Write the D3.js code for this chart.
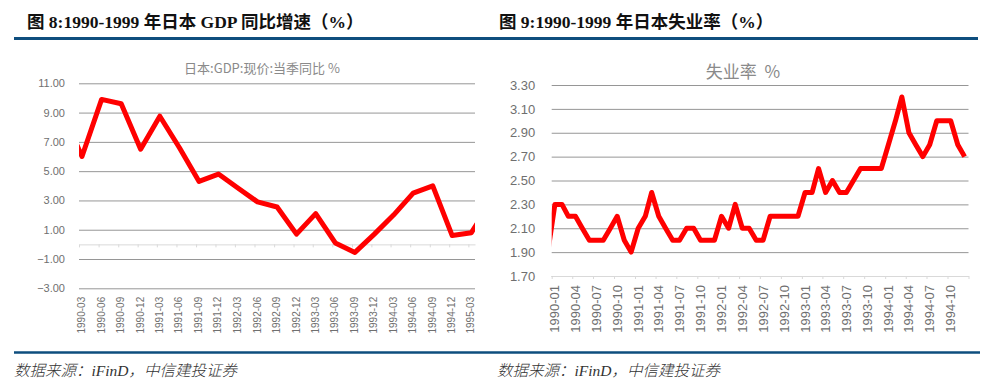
<!DOCTYPE html>
<html>
<head>
<meta charset="utf-8">
<script src="https://cdn.jsdelivr.net/npm/d3@7"></script>
<style>
  body { margin: 0; background: #fff; }
</style>
</head>
<body>
<div id="chart"></div>
<script>
const width = 994, height = 389;
const blue = "#0e4e7e";
const red = "#ff0000";
const gridColor = "#969696";
const axisColor = "#d9d9d9";
const labelColor = "#6f6f6f";
const parseMonth = d3.timeParse("%Y-%m");

// Figure 8: GDP yoy, quarterly
const gdpQuarters = ["1990-03", "1990-06", "1990-09", "1990-12", "1991-03", "1991-06", "1991-09",
  "1991-12", "1992-03", "1992-06", "1992-09", "1992-12", "1993-03", "1993-06", "1993-09",
  "1993-12", "1994-03", "1994-06", "1994-09", "1994-12", "1995-03"];
const gdpValues = [6.0, 9.9, 9.6, 6.5, 8.75, 6.6, 4.3, 4.8, 3.85, 2.9, 2.55, 0.7, 2.1, 0.1,
  -0.55, 0.7, 2.0, 3.5, 4.0, 0.6, 0.8];
// the line runs off both edges of the plot, these are the neighbours that get clipped
const gdpEdgeQuarters = ["1989-12", "1995-06"];
const gdpEdgeValues = [9.0, 2.9];
const gdpYTicks = [-3, -1, 1, 3, 5, 7, 9, 11];

// Figure 9: unemployment rate, monthly 1990-01 .. 1994-12
const unempValues = [
  2.3, 2.3, 2.2, 2.2, 2.1, 2.0, 2.0, 2.0, 2.1, 2.2, 2.0, 1.9,
  2.1, 2.2, 2.4, 2.2, 2.1, 2.0, 2.0, 2.1, 2.1, 2.0, 2.0, 2.0,
  2.2, 2.1, 2.3, 2.1, 2.1, 2.0, 2.0, 2.2, 2.2, 2.2, 2.2, 2.2,
  2.4, 2.4, 2.6, 2.4, 2.5, 2.4, 2.4, 2.5, 2.6, 2.6, 2.6, 2.6,
  2.8, 3.0, 3.2, 2.9, 2.8, 2.7, 2.8, 3.0, 3.0, 3.0, 2.8, 2.7];
const unempLeadMonth = "1989-12";
const unempLeadValue = 1.9;
const unempXTicks = ["1990-01", "1990-04", "1990-07", "1990-10", "1991-01", "1991-04", "1991-07",
  "1991-10", "1992-01", "1992-04", "1992-07", "1992-10", "1993-01", "1993-04", "1993-07",
  "1993-10", "1994-01", "1994-04", "1994-07", "1994-10"];
const unempYTicks = [1.7, 1.9, 2.1, 2.3, 2.5, 2.7, 2.9, 3.1, 3.3];

const titles = ["图 8:1990-1999 年日本 GDP 同比增速（%）", "图 9:1990-1999 年日本失业率（%）"];
const source = "数据来源：iFinD，中信建投证券";

const svg = d3.select("#chart").append("svg")
  .attr("width", width)
  .attr("height", height)
  .style("font-family", "'Liberation Sans', Arial, sans-serif");

// headers, rules and footers
svg.selectAll("text.figTitle")
  .data(titles)
  .enter()
  .append("text")
  .attr("class", "figTitle")
  .attr("x", (d, i) => i === 0 ? 27 : 499)
  .attr("y", 28)
  .style("font-family", "'Liberation Serif', 'Noto Sans CJK SC', serif")
  .style("font-weight", "bold")
  .style("font-size", "17.5px")
  .attr("fill", "#111")
  .text(d => d);

[[14, 497], [497, 978]].forEach(r => {
  svg.append("line")
    .attr("x1", r[0]).attr("x2", r[1])
    .attr("y1", 38.5).attr("y2", 38.5)
    .attr("stroke", blue).attr("stroke-width", 3);
});
svg.append("line")
  .attr("x1", 14).attr("x2", 980)
  .attr("y1", 352.5).attr("y2", 352.5)
  .attr("stroke", blue).attr("stroke-width", 2.5);

svg.selectAll("text.source")
  .data([14, 497])
  .enter()
  .append("text")
  .attr("class", "source")
  .attr("x", d => d)
  .attr("y", 376)
  .style("font-family", "'Liberation Serif', 'Noto Sans CJK SC', serif")
  .style("font-style", "italic")
  .style("font-weight", 300)
  .style("font-size", "15.5px")
  .attr("fill", "#333")
  .text(source);

// draws one panel, the geometry bits are per panel
function drawPanel(opt) {
  const g = svg.append("g");
  const x = d3.scaleTime().domain(opt.xDomain).range([opt.left, opt.right]);
  const y = d3.scaleLinear().domain(opt.yDomain).range([opt.bottom, opt.top]);

  // gridlines + y labels
  const yAxis = g.append("g")
    .attr("transform", `translate(${opt.left},0)`)
    .call(d3.axisLeft(y)
      .tickValues(opt.yTicks)
      .tickSize(-(opt.right - opt.left))
      .tickPadding(opt.yPad)
      .tickFormat(d3.format(".2f")));
  yAxis.select(".domain").remove();
  yAxis.selectAll("line").attr("stroke", gridColor);
  yAxis.selectAll("text")
    .attr("fill", labelColor)
    .style("font-size", opt.yFont + "px")
    .style("font-family", "'Liberation Sans', Arial, sans-serif");

  // category axis line with small ticks
  const xAxis = g.append("g")
    .attr("transform", `translate(0,${y(opt.axisAt)})`)
    .call(d3.axisBottom(x).tickValues(opt.xTicks).tickSize(3).tickSizeOuter(0).tickFormat(""));
  xAxis.selectAll("line, path").attr("stroke", axisColor);

  // rotated labels at the bottom of the plot
  const xLabels = g.append("g")
    .attr("transform", `translate(0,${opt.bottom})`)
    .call(d3.axisBottom(x).tickValues(opt.labelTicks).tickSize(0).tickFormat(d3.timeFormat("%Y-%m")));
  xLabels.select(".domain").remove();
  xLabels.selectAll("text")
    .attr("transform", "rotate(-90)")
    .attr("text-anchor", "end")
    .attr("x", -opt.labelGap)
    .attr("y", 0)
    .attr("dy", "0.55em")
    .attr("fill", labelColor)
    .style("font-size", opt.xFont + "px")
    .style("font-family", "'Liberation Sans', Arial, sans-serif");

  // chart title
  g.append("text")
    .attr("x", opt.titleX)
    .attr("y", opt.titleY)
    .attr("text-anchor", "middle")
    .attr("fill", "#8a8a8a")
    .style("font-family", "'Noto Sans CJK SC', sans-serif")
    .style("font-size", opt.titleFont + "px")
    .style("white-space", "pre")
    .text(opt.title);

  const clipId = "clip" + opt.id;
  g.append("clipPath").attr("id", clipId)
    .append("rect")
    .attr("x", opt.left).attr("y", opt.top - 20)
    .attr("width", opt.right - opt.left).attr("height", opt.bottom - opt.top + 40);

  const line = d3.line()
    .x(d => x(d[0]))
    .y(d => y(d[1]));

  g.append("path")
    .datum(opt.points)
    .attr("clip-path", `url(#${clipId})`)
    .attr("fill", "none")
    .attr("stroke", red)
    .attr("stroke-width", 5)
    .attr("stroke-linejoin", "round")
    .attr("d", line);
}

// values sit in the middle of their month on the time axis
const midMonth = s => d3.timeDay.offset(parseMonth(s), 14);

const gdpPoints = [[midMonth(gdpEdgeQuarters[0]), gdpEdgeValues[0]]]
  .concat(gdpQuarters.map((q, i) => [midMonth(q), gdpValues[i]]))
  .concat([[midMonth(gdpEdgeQuarters[1]), gdpEdgeValues[1]]]);

drawPanel({
  id: "gdp",
  points: gdpPoints,
  xDomain: [parseMonth("1990-03"), parseMonth("1995-04")],
  xTicks: gdpQuarters.map(parseMonth),
  labelTicks: gdpQuarters.map(parseMonth),
  yDomain: [-3, 11],
  yTicks: gdpYTicks,
  axisAt: 0,
  left: 79, right: 475, top: 83.3, bottom: 288.3,
  yPad: 14, yFont: 11, xFont: 10, labelGap: 8.5,
  title: "日本:GDP:现价:当季同比 %", titleX: 262, titleY: 73, titleFont: 13
});

const unempMonths = d3.timeMonth.range(parseMonth("1990-01"), parseMonth("1995-01"));
const unempPoints = [[midMonth(unempLeadMonth), unempLeadValue]]
  .concat(unempMonths.map((m, i) => [d3.timeDay.offset(m, 14), unempValues[i]]));

drawPanel({
  id: "unemp",
  points: unempPoints,
  xDomain: [parseMonth("1990-01"), parseMonth("1995-01")],
  // the last tick at 1995-01 has no label
  xTicks: unempXTicks.map(parseMonth).concat([parseMonth("1995-01")]),
  labelTicks: unempXTicks.map(parseMonth),
  yDomain: [1.7, 3.3],
  yTicks: unempYTicks,
  axisAt: 1.7,
  left: 551.7, right: 968.5, top: 85, bottom: 276,
  yPad: 16.5, yFont: 13, xFont: 13, labelGap: 9,
  title: "失业率  %", titleX: 743, titleY: 78, titleFont: 17
});
</script>
</body>
</html>
